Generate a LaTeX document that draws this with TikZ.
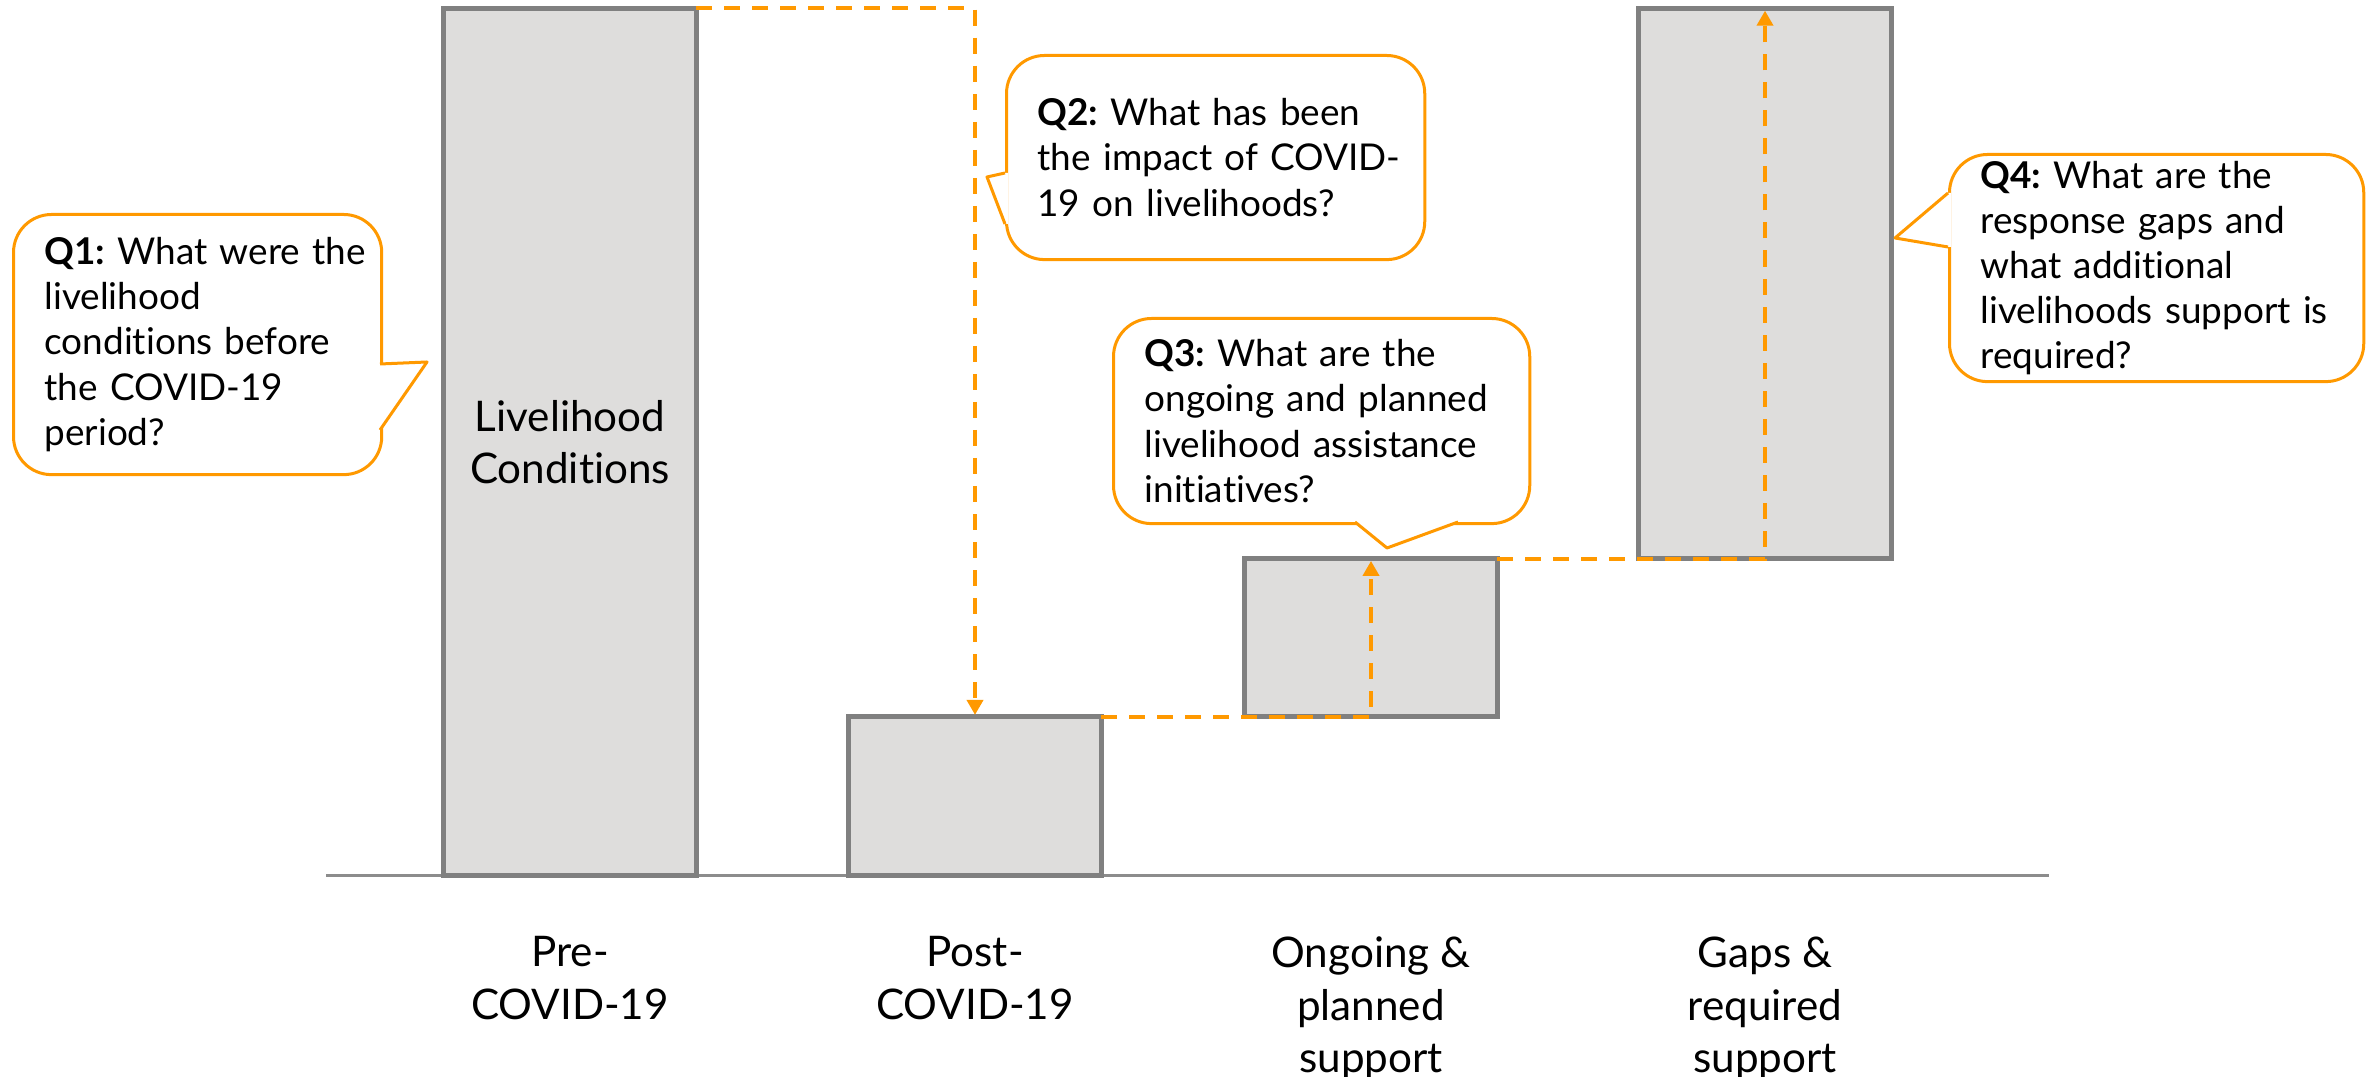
\documentclass[tikz,border=0pt]{standalone}
\usepackage{fontspec}
\setmainfont{Lato}[Ligatures=NoCommon]
\usetikzlibrary{arrows.meta,positioning}
\definecolor{qorange}{RGB}{255,153,0}
\definecolor{barfill}{RGB}{222,221,220}
\definecolor{bargray}{RGB}{128,128,128}
\definecolor{axisgray}{RGB}{140,140,140}
\newcommand\qsize{\fontsize{10.5pt}{12.8pt}\selectfont\frenchspacing}
\newcommand\lsize{\fontsize{12pt}{15pt}\selectfont}

\begin{document}
\begin{tikzpicture}[x=0.01cm, y=-0.01cm, >={Triangle[width=0.16cm,length=0.15cm]},
  bar/.style={draw=bargray, fill=barfill, line width=0.05cm, minimum width=2.52cm, outer sep=0pt, inner sep=0pt, align=center, font=\lsize},
  axislabel/.style={anchor=north, inner sep=0pt, align=center, font=\lsize},
  callout/.style={draw=qorange, fill=white, line width=0.03cm, rounded corners=0.38cm, anchor=north west, align=left, inner xsep=0.31cm, inner ysep=0pt, font=\qsize},
  flow/.style={draw=qorange, line width=0.04cm, dash pattern=on 0.16cm off 0.12cm, ->, shorten >=0.02cm},
  pointer/.style={draw=qorange, line width=0.03cm, line join=round}]
  \useasboundingbox (0,0) rectangle (2376,1077);

  % axis
  \coordinate (axl) at (326,876);
  \coordinate (axr) at (2049,876);
  \draw[axisgray, line width=0.03cm] (axl) -- (axr);

  % bars
  \node[bar, minimum height=8.67cm, anchor=south] (pre) at (570,876) {Livelihood\\Conditions};
  \node[bar, minimum height=1.59cm, anchor=south] (post) at (975,876) {};
  \node[bar, minimum height=1.58cm, anchor=south] (ongoing) at (1371,717) {};
  \node[bar, minimum height=5.50cm, anchor=south] (gaps) at (1765,559) {};

  \node[axislabel] (lpre) at (570,936) {Pre-\\COVID-19};
  \node[axislabel] (lpost) at (975,936) {Post-\\COVID-19};
  \node[axislabel] (longoing) at (1371,936) {Ongoing \&\\planned\\support};
  \node[axislabel] (lgaps) at (1765,936) {Gaps \&\\required\\support};

  % flows
  \draw[flow] (pre.north east) -| (post.north);
  \draw[flow] (post.north east) -| (ongoing.north);
  \draw[flow] (ongoing.north east) -| (gaps.north);

  % questions
  \node[callout, text width=3.06cm, minimum height=2.6cm] (q1) at (12,213)
    {\mbox{\textbf{Q1:} What were the}\\livelihood\\conditions before\\the COVID-19\\period?};
  \fill[white] (377,364) -- (380,364) -- (427,362) -- (380,430) -- (377,430) -- cycle;
  \draw[pointer] (380,364) -- (427,362) -- (380,430);

  \node[callout, text width=3.56cm, minimum height=2.04cm] (q2) at (1005,54)
    {\textbf{Q2:} What has been\\\mbox{the impact of COVID-}\\19 on livelihoods?};
  \fill[white] (1008,173) -- (1005,173) -- (987,177) -- (1005,224) -- (1008,224) -- cycle;
  \draw[pointer] (1005,173) -- (987,177) -- (1005,224);

  \node[callout, text width=3.54cm, minimum height=2.05cm] (q3) at (1112,317)
    {\textbf{Q3:} What are the\\ongoing and planned\\livelihood assistance\\initiatives?};
  \fill[white] (1458,519) -- (1458,522) -- (1387,548) -- (1355,522) -- (1355,519) -- cycle;
  \draw[pointer] (1458,522) -- (1387,548) -- (1355,522);

  \node[callout, text width=3.52cm, minimum height=2.27cm] (q4) at (1948,153)
    {\textbf{Q4:} What are the\\response gaps and\\what additional\\\mbox{livelihoods support is}\\required?};
  \fill[white] (1951,193) -- (1948,193) -- (1895,238) -- (1948,247) -- (1951,247) -- cycle;
  \draw[pointer] (1948,193) -- (1895,238) -- (1948,247);
\end{tikzpicture}
\end{document}
